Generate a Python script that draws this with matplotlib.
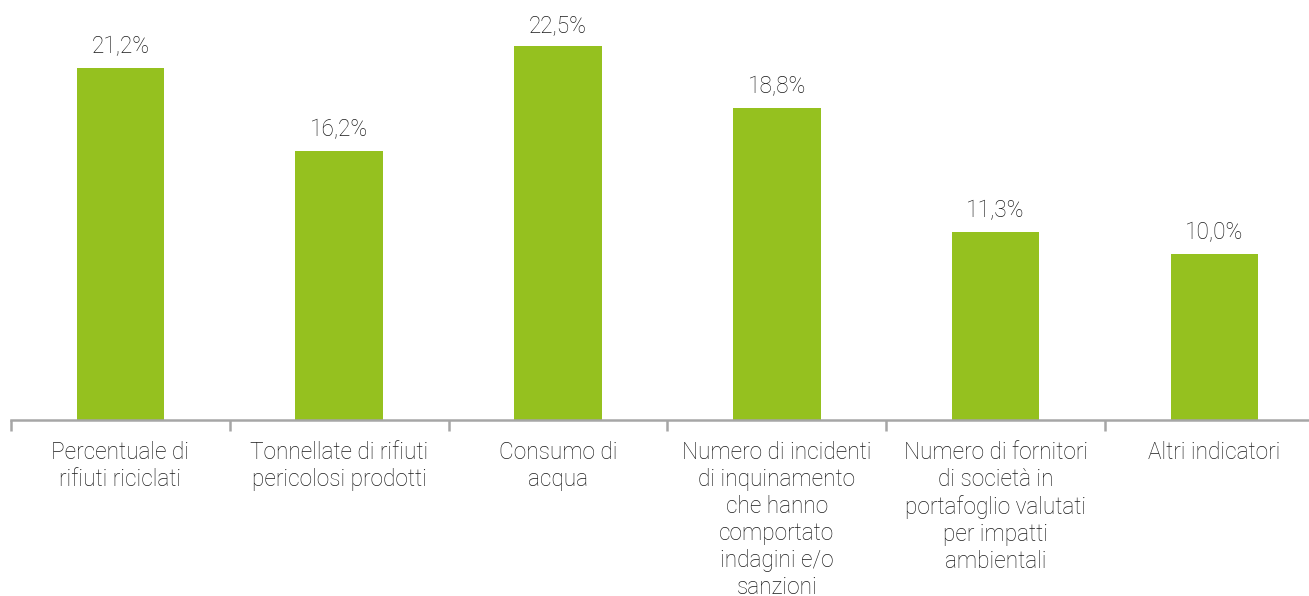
import matplotlib.pyplot as plt
import numpy as np

# Indicatori ambientali monitorati (% sul totale)
categorie = [
    "Percentuale di\nrifiuti riciclati",
    "Tonnellate di rifiuti\npericolosi prodotti",
    "Consumo di\nacqua",
    "Numero di incidenti\ndi inquinamento\nche hanno\ncomportato\nindagini e/o\nsanzioni",
    "Numero di fornitori\ndi società in\nportafoglio valutati\nper impatti\nambientali",
    "Altri indicatori",
]
valori = [21.2, 16.2, 22.5, 18.8, 11.3, 10.0]

plt.rcParams['font.family'] = ['Roboto', 'DejaVu Sans']

fig = plt.figure(figsize=(13.09, 5.96), dpi=100)
W, H = 1309, 596
passo = 218.8
ax = fig.add_axes([11 / W, 1 - 419.5 / H, passo * 6 / W, 419.5 / H])

x = np.arange(len(categorie))
ax.bar(x, valori, width=0.40, color="#95c11f", zorder=2)

for xi, v in zip(x, valori):
    ax.annotate(f"{v:.1f}%".replace(".", ","), (xi, v), xytext=(0, 7),
                textcoords="offset points", ha="center", va="bottom",
                fontsize=16.3, fontweight="light", color="#1a1a1a")

ax.set_xlim(-0.5, len(categorie) - 0.5)
ax.set_ylim(0, 25.3)

ax.set_xticks(x)
ax.set_xticklabels(categorie, fontsize=16.3, fontweight="light", color="#1a1a1a",
                   linespacing=1.22)
ax.set_xticks(np.arange(len(categorie) + 1) - 0.5, minor=True)
ax.tick_params(axis="x", which="major", length=0, pad=15.5)
ax.tick_params(axis="x", which="minor", length=8, width=1.8, color="#a6a6a6")
ax.set_yticks([])

for s in ["top", "right", "left"]:
    ax.spines[s].set_visible(False)
ax.spines["bottom"].set_color("#a6a6a6")
ax.spines["bottom"].set_linewidth(1.8)

fig.savefig("out.png", dpi=100)
